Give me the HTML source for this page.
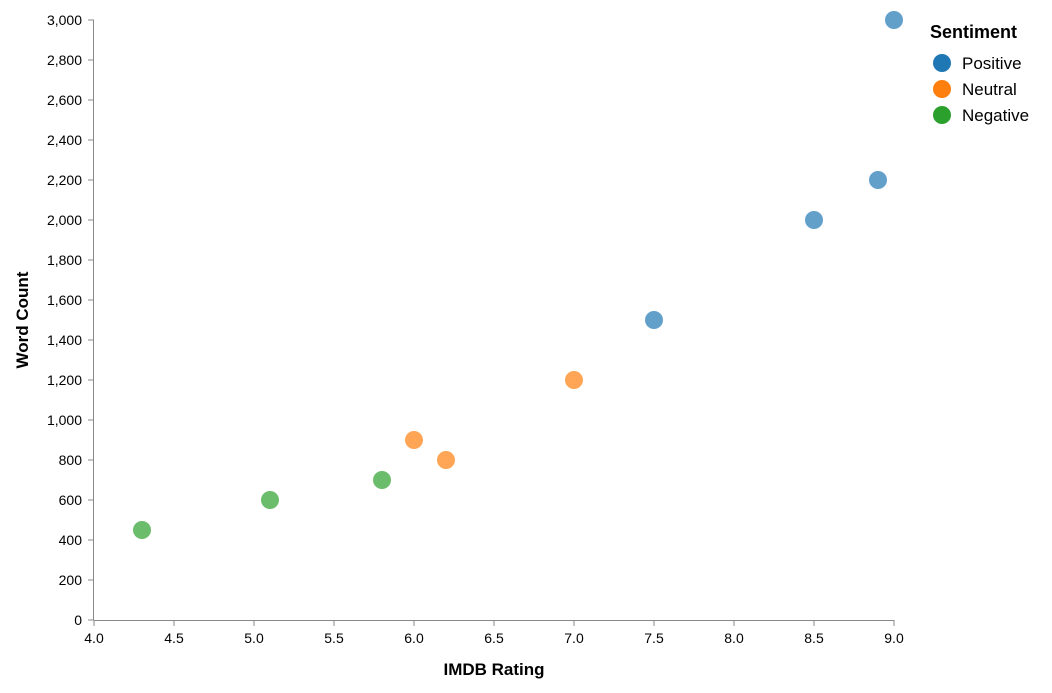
<!DOCTYPE html>
<html><head><meta charset="utf-8"><style>
body{margin:0;background:#fff;font-family:"Liberation Sans",Arial,sans-serif}
svg text{font-family:"Liberation Sans",Arial,sans-serif}
</style></head><body>
<svg id="chart" width="1052" height="688"></svg>
<script>
const ratings=[9.0,8.9,8.5,7.5,7.0,6.0,6.2,5.8,5.1,4.3];
const words=[3000,2200,2000,1500,1200,900,800,700,600,450];
const sentiments=["Positive","Positive","Positive","Positive","Neutral","Neutral","Neutral","Negative","Negative","Negative"];
const categories=["Positive","Neutral","Negative"];
const colors={Positive:"#1f77b4",Neutral:"#ff7f0e",Negative:"#2ca02c"};
const xTicks=[4.0,4.5,5.0,5.5,6.0,6.5,7.0,7.5,8.0,8.5,9.0];
const yTicks=[0,200,400,600,800,1000,1200,1400,1600,1800,2000,2200,2400,2600,2800,3000];

const NS="http://www.w3.org/2000/svg";
const svg=document.getElementById("chart");
const X0=94,X1=894,Y0=620,Y1=20;
const x=v=>X0+(v-4)/(9-4)*(X1-X0);
const y=v=>Y0-(v/3000)*(Y0-Y1);
function mk(t,a,p){const e=document.createElementNS(NS,t);for(const k in a)e.setAttribute(k,a[k]);(p||svg).appendChild(e);return e;}

const xAxis=mk("g",{});


mk("line",{x1:X0,y1:Y0+0.5,x2:X1,y2:Y0+0.5,stroke:"#888"},xAxis);
xTicks.forEach(t=>{
  mk("line",{x1:x(t),y1:Y0,x2:x(t),y2:Y0+6,stroke:"#888"},xAxis);
  const l=mk("text",{x:x(t),y:Y0+23,"text-anchor":"middle","font-size":14,fill:"#000"},xAxis);
  l.textContent=t.toFixed(1);
  
  
});
const xt=mk("text",{x:(X0+X1)/2,y:675,"text-anchor":"middle","font-size":17,"font-weight":"bold"});
xt.textContent="IMDB Rating";



const yAxis=mk("g",{});


mk("line",{x1:X0-0.5,y1:Y1,x2:X0-0.5,y2:Y0,stroke:"#888"},yAxis);
yTicks.forEach(t=>{
  mk("line",{x1:X0-6,y1:y(t),x2:X0,y2:y(t),stroke:"#888"},yAxis);
  const l=mk("text",{x:X0-12,y:y(t)+5,"text-anchor":"end","font-size":14},yAxis);
  l.textContent=t.toLocaleString("en-US");
  
  
});
const yt=mk("text",{x:0,y:0,"text-anchor":"middle","font-size":17,"font-weight":"bold",transform:"translate(28,320) rotate(-90)"});
yt.textContent="Word Count";



ratings.forEach((r,i)=>{
  const c=mk("circle",{cx:x(r),cy:y(words[i]),r:9,fill:colors[sentiments[i]],"fill-opacity":0.7});
  
  
});

const lg=mk("g",{});


const lt=mk("text",{x:930,y:38,"font-size":18,"font-weight":"bold"},lg);
lt.textContent="Sentiment";


categories.forEach((c,i)=>{
  const g=mk("g",{},lg);
  
  
  mk("circle",{cx:942,cy:63+i*26,r:9,fill:colors[c]},g);
  const t=mk("text",{x:962,y:69+i*26,"font-size":17},g);
  t.textContent=c;
});
</script>
</body></html>
